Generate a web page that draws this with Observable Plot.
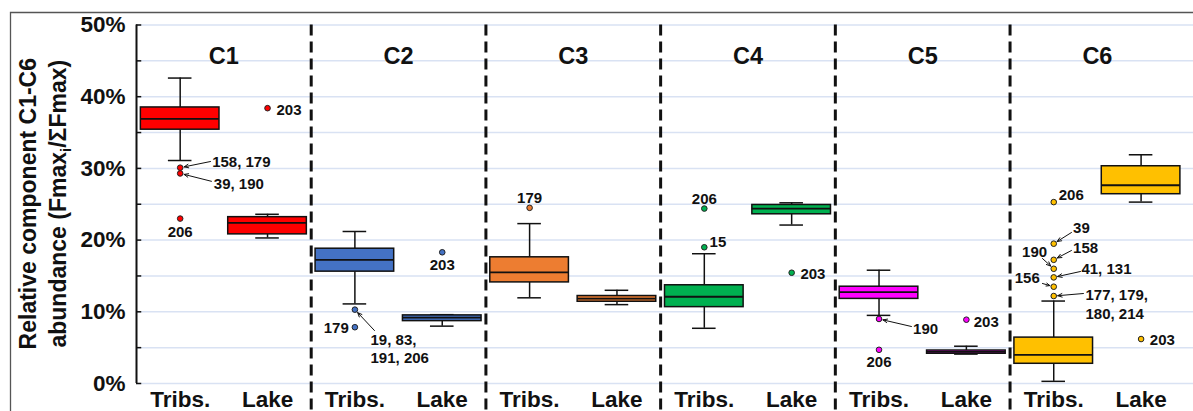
<!DOCTYPE html>
<html>
<head>
<meta charset="utf-8">
<script src="https://cdn.jsdelivr.net/npm/d3@7"></script>
<script src="https://cdn.jsdelivr.net/npm/@observablehq/plot@0.6"></script>
<style>
  body { margin: 0; background: #fff; }
  #chart svg { display: block; }
</style>
</head>
<body>
<div id="chart"></div>
<script>
// PARAFAC components and sample groups
const components = ["C1", "C2", "C3", "C4", "C5", "C6"];
const groups = ["Tribs.", "Lake"];
const colors = ["#ff0000", "#4472c4", "#ed7d31", "#00b050", "#ff00ff", "#ffc000"];

// Box summaries, % of ΣFmax: whisker low, Q1, median, Q3, whisker high
const tribsLow    = [31.1, 11.1, 11.95, 7.7, 9.5, 0.3];
const tribsQ1     = [35.4, 15.6, 14.1, 10.65, 11.8, 2.75];
const tribsMedian = [36.9, 17.25, 15.5, 12.1, 12.75, 4.0];
const tribsQ3     = [38.5, 18.8, 17.6, 13.7, 13.5, 6.4];
const tribsHigh   = [42.6, 21.2, 22.3, 18.1, 15.8, 11.5];

const lakeLow    = [20.3, 8.0, 11.0, 22.1, 4.1, 25.3];
const lakeQ1     = [20.8, 8.7, 11.4, 23.6, 4.15, 26.4];
const lakeMedian = [22.4, 9.2, 11.85, 24.4, 4.4, 27.65];
const lakeQ3     = [23.2, 9.5, 12.2, 24.9, 4.6, 30.3];
const lakeHigh   = [23.6, 9.6, 13.0, 25.2, 5.2, 31.9];

// Outlying samples: component index, group index, value, sample ids
const outlierComp  = [0, 0, 0, 0, 1, 1, 1, 2, 3, 3, 3, 4, 4, 4, 5, 5, 5, 5, 5, 5, 5, 5];
const outlierGroup = [0, 0, 0, 1, 0, 0, 1, 0, 0, 0, 1, 0, 0, 1, 0, 0, 0, 0, 0, 0, 0, 1];
const outlierValue = [30.1, 29.3, 23.0, 38.4, 10.3, 7.85, 18.3, 24.5, 19.0, 24.4, 15.45, 9.0, 4.7, 8.9,
                      25.3, 19.5, 17.25, 16.0, 14.8, 13.5, 12.2, 6.2];
const outlierIds   = ["158, 179", "39, 190", "206", "203", "19, 83,\n191, 206", "179", "203", "179", "15", "206", "203",
                      "190", "206", "203", "206", "39", "158", "190", "41, 131", "156", "177, 179,\n180, 214", "203"];

// Label layout for each outlier: x offset from the box centre (x units), label y (%), text anchor,
// and an optional pointer tail [x offset, y]
const labelDx     = [0.366, 0.385, 0, 0.103, 0.179, -0.07, 0, 0, 0.06, 0, 0.1, 0.39, 0, 0.084,
                     0.057, 0.222, 0.222, -0.076, 0.317, -0.16, 0.363, 0.1];
const labelY      = [31.0, 27.9, 21.2, 38.25, 4.93, 7.8, 16.6, 26.0, 19.85, 25.85, 15.45, 7.7, 3.1, 8.7,
                     26.4, 21.8, 19.0, 18.45, 16.1, 14.9, 11.15, 6.2];
const labelAnchor = ["start", "start", "middle", "start", "start", "end", "middle", "middle", "start", "middle", "start",
                     "start", "middle", "start", "start", "start", "start", "end", "start", "end", "start", "start"];
const pointerTail = [[0.347, 30.96], [0.358, 28.2], null, null, [0.224, 7.39], null, null, null, null, null, null,
                     [0.371, 7.95], null, null, null, [0.203, 21.06], [0.203, 18.55], [-0.129, 17.43],
                     [0.306, 15.62], [-0.129, 13.95], [0.34, 12.55], null];

// Each component gets a panel two x-units wide; Tribs. and Lake sit at its quarter points
const center = (c, g) => 2 * c + 0.5 + g;
const boxHalf = 0.45;
const capHalf = 0.135;

const boxes = [];
components.forEach((name, c) => {
  boxes.push({c, g: 0, low: tribsLow[c], q1: tribsQ1[c], med: tribsMedian[c], q3: tribsQ3[c], high: tribsHigh[c]});
  boxes.push({c, g: 1, low: lakeLow[c], q1: lakeQ1[c], med: lakeMedian[c], q3: lakeQ3[c], high: lakeHigh[c]});
});

const outliers = outlierValue.map((v, i) => ({
  c: outlierComp[i], g: outlierGroup[i], value: v, ids: outlierIds[i],
  dx: labelDx[i], ly: labelY[i], anchor: labelAnchor[i], tail: pointerTail[i]
}));
const pointers = outliers.filter(d => d.tail);

const ink = "#111";
const gridTicks = d3.range(0, 51, 5);
const xCenters = d3.range(12).map(k => k + 0.5);

// sample-id labels, one text mark per anchor
const idLabels = ["start", "middle", "end"].map(anchor =>
  Plot.text(outliers.filter(d => d.anchor === anchor), {
    x: d => center(d.c, d.g) + d.dx, y: d => d.ly, text: d => d.ids, textAnchor: anchor,
    fontSize: 15, fontWeight: "bold", lineHeight: 1.23, fill: ink
  })
);

const chart = Plot.plot({
  width: 1193,
  height: 411,
  marginLeft: 136,
  marginRight: 0,
  marginTop: 24.5,
  marginBottom: 28,
  x: {domain: [0, 12.1]},
  y: {domain: [0, 50]},
  style: {fontFamily: "'Liberation Sans', Arial, sans-serif", fontWeight: "bold", background: "#fff", overflow: "visible", color: ink},
  marks: [
    // horizontal gridlines every 5 %
    Plot.ruleY(gridTicks, {x1: 0, x2: 12.1, stroke: "#d9e2f3", strokeWidth: 1.5}),
    // panel separators
    Plot.ruleX([2, 4, 6, 8, 10], {stroke: ink, strokeWidth: 3, strokeDasharray: "11,6", insetBottom: -30}),
    // y axis line, inward ticks and labels
    Plot.ruleX([0], {y1: 0, y2: 50, stroke: ink, strokeWidth: 2}),
    Plot.ruleY(gridTicks, {x1: 0, x2: 0.06, stroke: ink, strokeWidth: 1.5}),
    Plot.axisY({ticks: [0, 10, 20, 30, 40, 50], tickFormat: d => d + "%", tickSize: 0, tickPadding: 11,
                fontSize: 22.5, fontWeight: "bold", label: null}),
    // group labels along the bottom
    Plot.axisX({ticks: xCenters, tickFormat: d => groups[Math.floor(d) % 2], tickSize: 0, tickPadding: 8,
                fontSize: 22.5, fontWeight: "bold", label: null}),
    // panel titles
    Plot.text(components, {x: (d, i) => 2 * i + 1, frameAnchor: "top", dy: 22.5, text: d => d,
                           fontSize: 23.5, fontWeight: "bold", fill: ink}),
    // whiskers and caps
    Plot.ruleX(boxes, {x: d => center(d.c, d.g), y1: d => d.low, y2: d => d.q1, stroke: ink, strokeWidth: 1.5}),
    Plot.ruleX(boxes, {x: d => center(d.c, d.g), y1: d => d.q3, y2: d => d.high, stroke: ink, strokeWidth: 1.5}),
    Plot.ruleY(boxes, {y: d => d.low, x1: d => center(d.c, d.g) - capHalf, x2: d => center(d.c, d.g) + capHalf, stroke: ink, strokeWidth: 1.5}),
    Plot.ruleY(boxes, {y: d => d.high, x1: d => center(d.c, d.g) - capHalf, x2: d => center(d.c, d.g) + capHalf, stroke: ink, strokeWidth: 1.5}),
    // interquartile boxes and medians
    Plot.rect(boxes, {x1: d => center(d.c, d.g) - boxHalf, x2: d => center(d.c, d.g) + boxHalf,
                      y1: d => d.q1, y2: d => d.q3, fill: d => colors[d.c], stroke: ink, strokeWidth: 1.5}),
    Plot.ruleY(boxes, {y: d => d.med, x1: d => center(d.c, d.g) - boxHalf, x2: d => center(d.c, d.g) + boxHalf, stroke: ink, strokeWidth: 1.8}),
    // pointers from sample ids to their points
    Plot.arrow(pointers, {x1: d => center(d.c, d.g) + d.tail[0], y1: d => d.tail[1],
                          x2: d => center(d.c, d.g), y2: d => d.value,
                          stroke: ink, strokeWidth: 1, headLength: 7, headAngle: 45, insetEnd: 4}),
    // outlying samples
    Plot.dot(outliers, {x: d => center(d.c, d.g), y: d => d.value, r: 2.8, fill: d => colors[d.c], stroke: "#222", strokeWidth: 1}),
    ...idLabels
  ]
});

document.getElementById("chart").appendChild(chart);

// outer frame and the two-line y-axis title
const svg = d3.select(chart);
svg.insert("path", ":first-child")
  .attr("d", "M10.5,430V12.5H1210")
  .attr("fill", "none")
  .attr("stroke", "#555")
  .attr("stroke-width", 1.3);

const title = svg.append("g")
  .attr("font-family", "'Liberation Sans', Arial, sans-serif")
  .attr("font-weight", "bold")
  .attr("font-size", 23)
  .attr("fill", ink)
  .attr("text-anchor", "middle");

title.append("text")
  .attr("transform", "translate(36,203.7) rotate(-90)")
  .text("Relative component C1-C6");

const line2 = title.append("text")
  .attr("transform", "translate(66,203.7) rotate(-90)");
line2.append("tspan").text("abundance (Fmax");
line2.append("tspan").attr("font-size", 15).attr("dy", 5).text("i");
line2.append("tspan").attr("dy", -5).text("/ΣFmax)");
</script>
</body>
</html>
